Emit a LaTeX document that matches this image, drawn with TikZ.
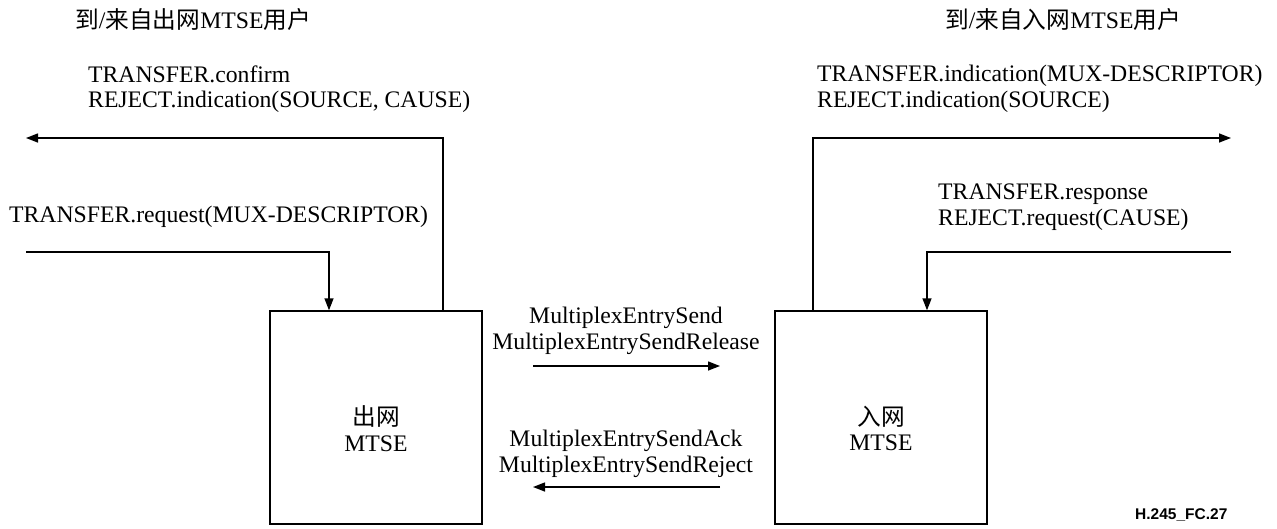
\documentclass[tikz,border=0pt]{standalone}
\usepackage{fontspec}
\setmainfont{Liberation Serif}
\newfontfamily\cjk{Noto Sans CJK SC}
\newfontfamily\figsans{Liberation Sans}
\usetikzlibrary{arrows.meta}
\begin{document}
\begin{tikzpicture}[x=1pt,y=-1pt,
  txt/.style={inner sep=0pt,font=\fontsize{23.7}{25.5}\selectfont},
  ltxt/.style={txt,anchor=west,align=left},
  ctxt/.style={txt,align=center},
  box/.style={draw,line width=1.4pt,minimum width=212pt,minimum height=213pt,inner sep=0pt},
  conn/.style={line width=1.4pt},
  arr/.style={conn,-{Triangle[length=12pt,width=9pt]}}]
\useasboundingbox (0,0) rectangle (1277,528);
% headings
\node[ltxt] (hl) at (75,20) {{\cjk 到}/{\cjk 来自出网}MTSE{\cjk 用户}};
\node[ltxt] (hr) at (945,20) {{\cjk 到}/{\cjk 来自入网}MTSE{\cjk 用户}};
% boxes
\node[box] (lbox) at (376,417.5) {};
\node[box] (rbox) at (881,417.5) {};
\node[ctxt] (llab) at (376,428.5) {{\cjk 出网}\\MTSE};
\node[ctxt] (rlab) at (881,428.5) {{\cjk 入网}\\MTSE};
% left side texts
\node[ltxt] (lt1) at (88,89) {TRANSFER.confirm\\REJECT.indication(SOURCE, CAUSE)};
\node[ltxt] (lt2) at (9,217) {TRANSFER.request(MUX-DESCRIPTOR)};
% right side texts
\node[ltxt] (rt1) at (817,89) {TRANSFER.indication(MUX-DESCRIPTOR)\\REJECT.indication(SOURCE)};
\node[ltxt] (rt2) at (938,207) {TRANSFER.response\\REJECT.request(CAUSE)};
% middle texts
\node[ctxt] (m1) at (626,331) {MultiplexEntrySend\\MultiplexEntrySendRelease};
\node[ctxt] (m2) at (626,454) {MultiplexEntrySendAck\\MultiplexEntrySendReject};
% figure id
\node[inner sep=0pt,anchor=west,font=\figsans\bfseries\fontsize{15.5}{18}\selectfont] (fid) at (1135,515) {H.245\_FC.27};
% connector coordinates
\coordinate (lo) at (443,138);
\coordinate (loend) at (26,138);
\coordinate (li) at (329,252);
\coordinate (listart) at (26,252);
\coordinate (ro) at (813,138);
\coordinate (roend) at (1231,138);
\coordinate (ri) at (927,252);
\coordinate (ristart) at (1231,252);
\coordinate (ma1) at (533,366);
\coordinate (mb1) at (720,366);
\coordinate (ma2) at (720,487);
\coordinate (mb2) at (533,487);
% connectors
\draw[arr] (lbox.north -| lo) |- (loend);
\draw[arr] (listart) -| (lbox.north -| li);
\draw[arr] (rbox.north -| ro) |- (roend);
\draw[arr] (ristart) -| (rbox.north -| ri);
\draw[arr] (ma1) -- (mb1);
\draw[arr] (ma2) -- (mb2);
\end{tikzpicture}
\end{document}
